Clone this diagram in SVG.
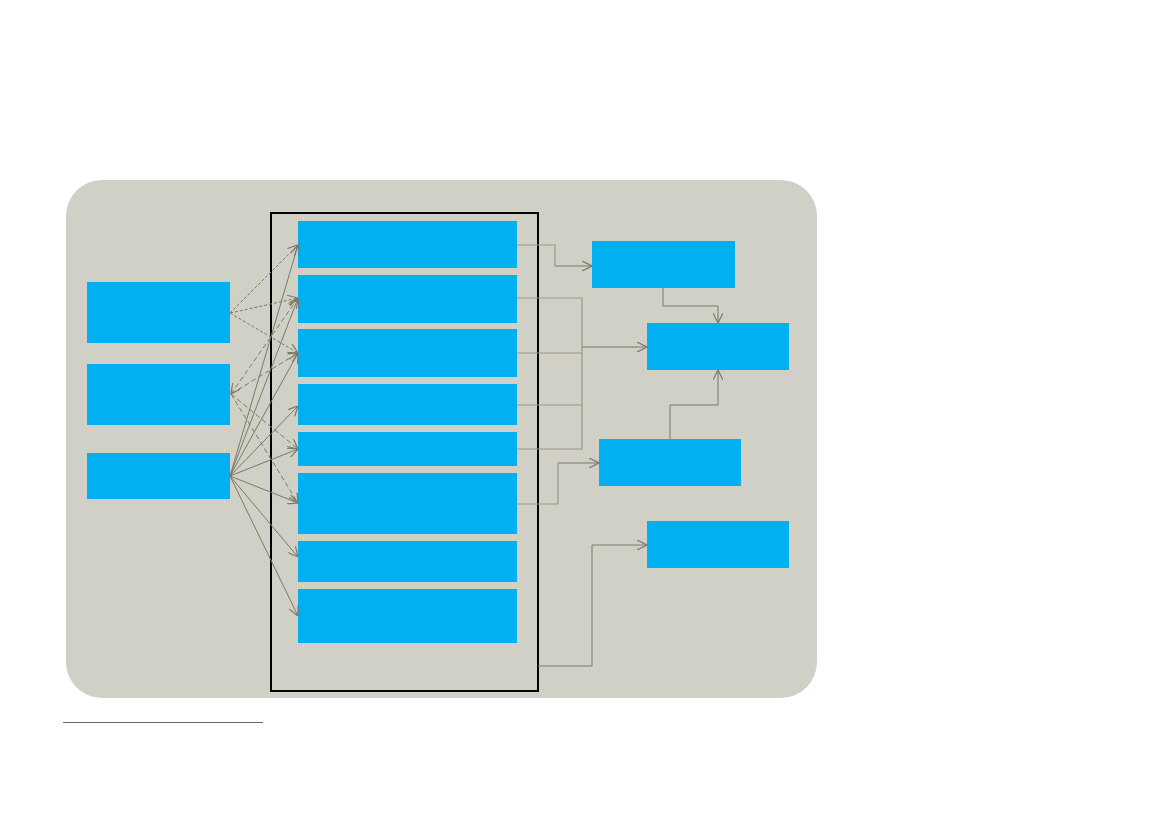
<svg xmlns="http://www.w3.org/2000/svg" width="1169" height="826" viewBox="0 0 1169 826">
<style>
.bg{fill:#d0d0c6}
.b{fill:#00b0f0}
.c{fill:none;stroke:#7a786a;stroke-width:1}
.d1{stroke-dasharray:3,2}
.d2{stroke-dasharray:5,3}
.br{fill:none;stroke:#9a9888;stroke-width:1.2}
</style>
<defs>
<marker id="ah" viewBox="0 0 10 10" refX="10" refY="5" markerWidth="10" markerHeight="10" markerUnits="userSpaceOnUse" orient="auto-start-reverse">
<path d="M0,0 L10,5 L0,10" fill="none" stroke="#7a786a" stroke-width="1.2"/>
</marker>
</defs>
<rect class="bg" x="66" y="180" width="751" height="518" rx="36" ry="36"/>
<rect x="271" y="213" width="267" height="478" fill="none" stroke="#000" stroke-width="2"/>
<line x1="63" y1="722.5" x2="263" y2="722.5" stroke="#666" stroke-width="1"/>
<g id="A"><rect class="b" x="87" y="282" width="143" height="61"/></g>
<g id="B"><rect class="b" x="87" y="364" width="143" height="61"/></g>
<g id="C"><rect class="b" x="87" y="453" width="143" height="46"/></g>
<g id="M1"><rect class="b" x="298" y="221" width="219" height="47"/></g>
<g id="M2"><rect class="b" x="298" y="275" width="219" height="48"/></g>
<g id="M3"><rect class="b" x="298" y="329" width="219" height="48"/></g>
<g id="M4"><rect class="b" x="298" y="384" width="219" height="41"/></g>
<g id="M5"><rect class="b" x="298" y="432" width="219" height="34"/></g>
<g id="M6"><rect class="b" x="298" y="473" width="219" height="61"/></g>
<g id="M7"><rect class="b" x="298" y="541" width="219" height="41"/></g>
<g id="M8"><rect class="b" x="298" y="589" width="219" height="54"/></g>
<g id="R1"><rect class="b" x="592" y="241" width="143" height="47"/></g>
<g id="R2"><rect class="b" x="647" y="323" width="142" height="47"/></g>
<g id="R3"><rect class="b" x="599" y="439" width="142" height="47"/></g>
<g id="R4"><rect class="b" x="647" y="521" width="142" height="47"/></g>
<g id="connectors">
<path class="c d1" d="M230,313 L298,245" marker-end="url(#ah)"/>
<path class="c d1" d="M230,313 L298,298" marker-end="url(#ah)"/>
<path class="c d1" d="M230,313 L298,353" marker-end="url(#ah)"/>
<path class="c d2" d="M231,394 L298,298" marker-start="url(#ah)" marker-end="url(#ah)"/>
<path class="c d2" d="M231,394 L298,353" marker-end="url(#ah)"/>
<path class="c d2" d="M231,394 L298,449" marker-end="url(#ah)"/>
<path class="c d2" d="M231,394 L298,503" marker-end="url(#ah)"/>
<path class="c" d="M230,476 L298,245" marker-end="url(#ah)"/>
<path class="c" d="M230,476 L298,298" marker-end="url(#ah)"/>
<path class="c" d="M230,476 L298,353" marker-end="url(#ah)"/>
<path class="c" d="M230,476 L298,406" marker-end="url(#ah)"/>
<path class="c" d="M230,476 L298,449" marker-end="url(#ah)"/>
<path class="c" d="M230,476 L298,503" marker-end="url(#ah)"/>
<path class="c" d="M230,476 L298,557" marker-end="url(#ah)"/>
<path class="c" d="M230,476 L298,616" marker-end="url(#ah)"/>
<path class="br" d="M517,245 H555 V266"/>
<path class="c" d="M555,266 H592" marker-end="url(#ah)"/>
<path class="br" d="M517,298 H582 V449 H517 M517,353 H582 M517,405 H582"/>
<path class="c" d="M582,347 H647" stroke-width="1.8" marker-end="url(#ah)"/>
<path class="br" d="M517,504 H558 V463"/>
<path class="c" d="M558,463 H599" marker-end="url(#ah)"/>
<path class="c" d="M538,666 H592 V545 H647" marker-end="url(#ah)"/>
<path class="c" d="M663,288 V306 H718 V323" marker-end="url(#ah)"/>
<path class="c" d="M670,439 V405 H718 V370" marker-end="url(#ah)"/>
</g>
</svg>
